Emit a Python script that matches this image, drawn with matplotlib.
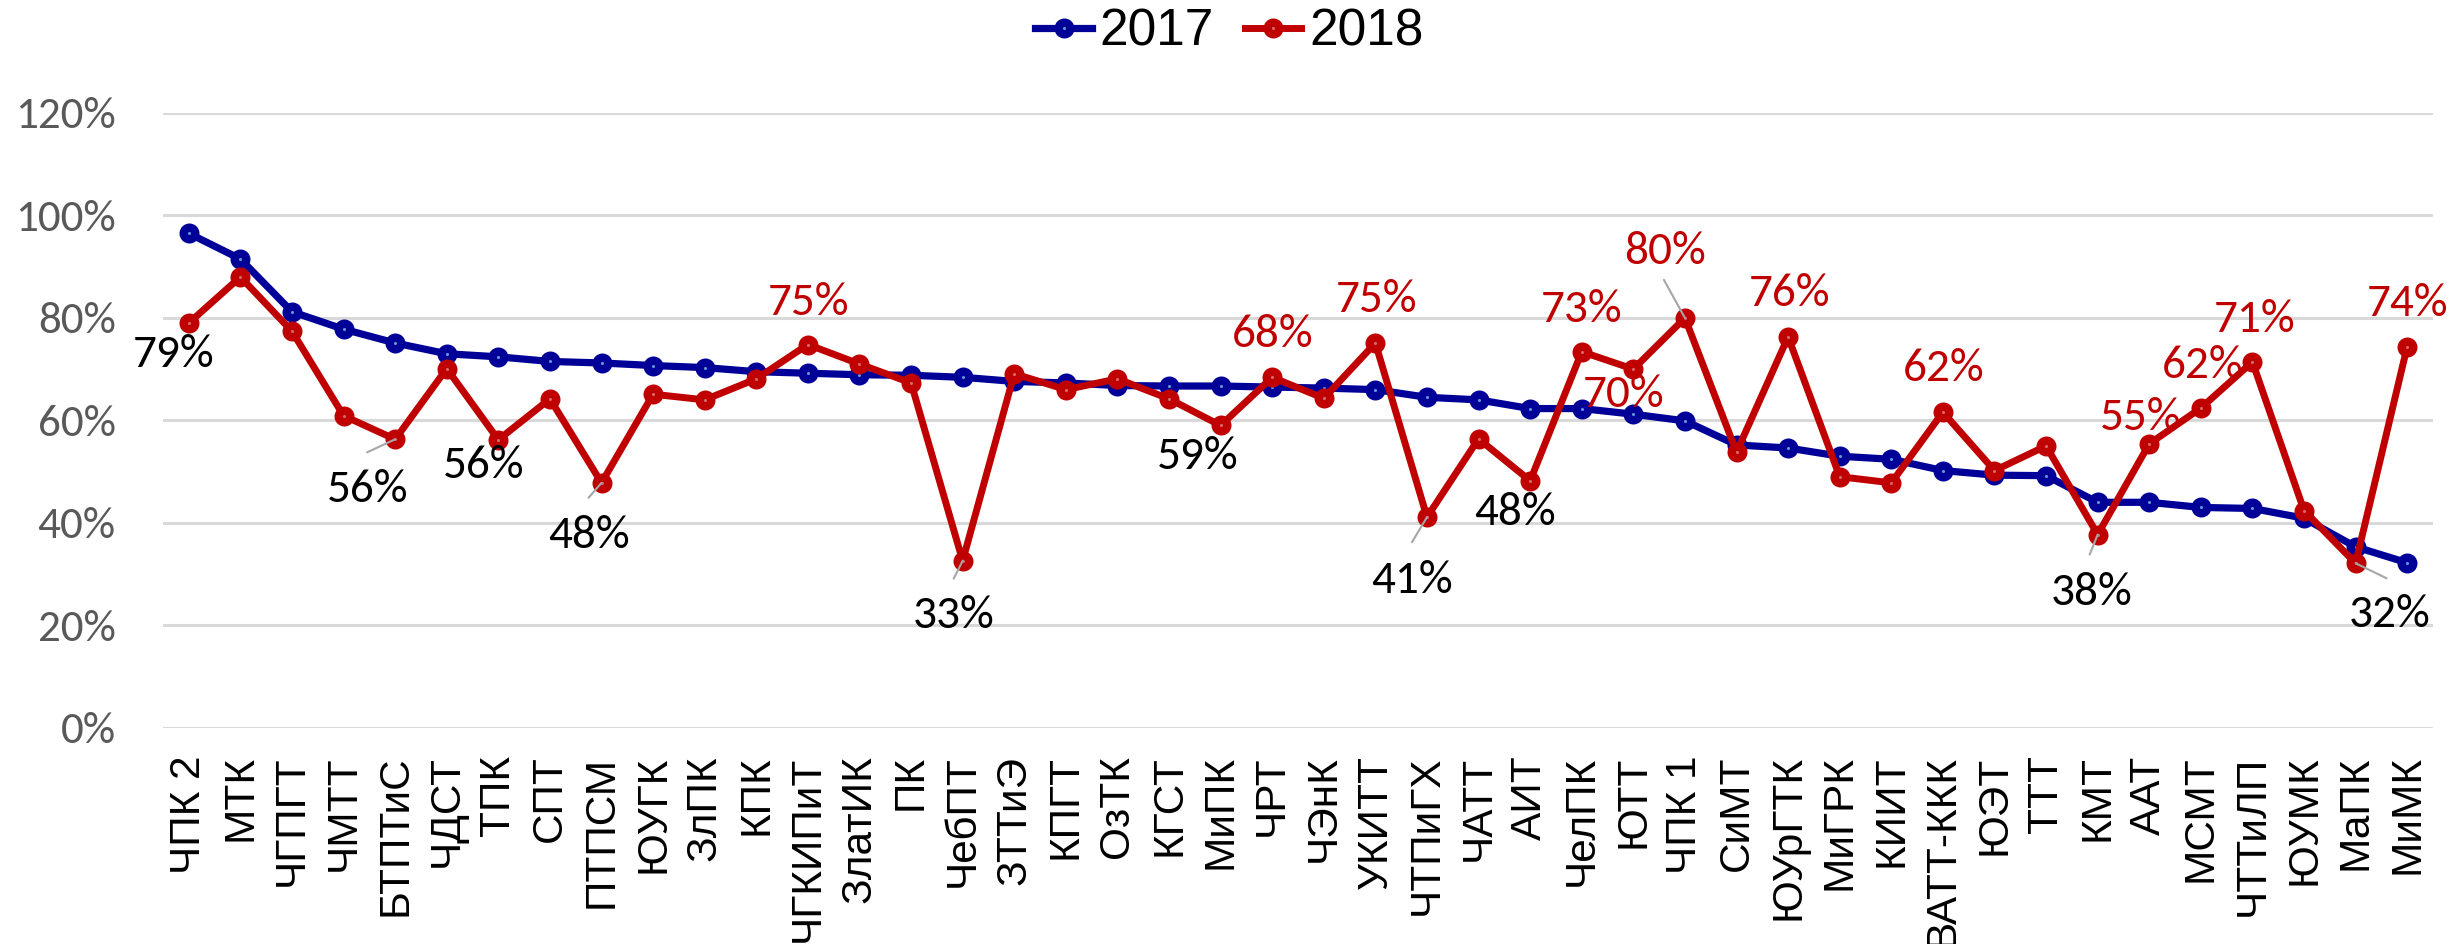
import matplotlib
matplotlib.use("Agg")
import matplotlib.pyplot as plt
from matplotlib import font_manager
from matplotlib.lines import Line2D

# ---------------- data ----------------
categories = ["ЧПК 2", "МТК", "ЧГПГТ", "ЧМТТ", "БТПТиС", "ЧДСТ", "ТПК", "СПТ", "ПТПСМ",
              "ЮУГК", "ЗлПК", "КПК", "ЧГКИПиТ", "ЗлатИК", "ПК", "ЧебПТ", "ЗТТиЭ", "КПГТ",
              "ОзТК", "КГСТ", "МиПК", "ЧРТ", "ЧЭнК", "УКИТТ", "ЧТПиГХ", "ЧАТТ", "АИТ",
              "ЧелПК", "ЮТТ", "ЧПК 1", "СиМТ", "ЮУрГТК", "МиГРК", "КИИТ", "ВАТТ-ККК",
              "ЮЭТ", "ТТТ", "КМТ", "ААТ", "МСМТ", "ЧТТиЛП", "ЮУМК", "МаПК", "МиМК"]

values_2017 = [96.5, 91.5, 81.2, 77.8, 75.1, 73.0, 72.4, 71.5, 71.2, 70.7, 70.3, 69.5,
               69.2, 68.9, 68.8, 68.4, 67.6, 67.3, 66.8, 66.7, 66.7, 66.5, 66.3, 66.0,
               64.5, 64.0, 62.3, 62.3, 61.2, 59.9, 55.2, 54.6, 53.0, 52.4, 50.2, 49.3,
               49.2, 44.0, 44.0, 43.0, 42.8, 40.9, 35.3, 32.2]

values_2018 = [79.0, 88.0, 77.4, 60.9, 56.3, 70.1, 56.2, 64.2, 47.8, 65.1, 64.0, 68.1,
               74.8, 71.0, 67.3, 32.6, 69.1, 66.0, 68.1, 64.2, 59.0, 68.4, 64.3, 75.1,
               41.1, 56.4, 48.2, 73.4, 70.0, 80.0, 53.8, 76.3, 49.0, 47.8, 61.6, 50.2,
               55.0, 37.7, 55.4, 62.4, 71.4, 42.4, 32.1, 74.4]

y_ticks = [0, 20, 40, 60, 80, 100, 120]
series_names = ["2017", "2018"]

# indices of 2018 points that carry a data label
labeled_2018 = [0, 4, 6, 8, 12, 15, 20, 21, 23, 24, 26, 27, 28, 29, 31, 34, 37, 38, 39, 40, 42, 43]

# ---------------- styling ----------------
BLUE = "#000099"
RED = "#C00000"
BLUE_DOT = "#5B9BD5"
RED_DOT = "#D46A6A"
GRID = "#D9D9D9"
TICK = "#595959"
LEADER = "#A6A6A6"

names = {f.name for f in font_manager.fontManager.ttflist}
if "Carlito" in names:
    num_font, tick_fs, lab_fs = "Carlito", 32.5, 34
elif "Roboto" in names:
    num_font, tick_fs, lab_fs = "Roboto", 29, 31
else:
    num_font, tick_fs, lab_fs = "DejaVu Sans", 27, 29
cat_font = "Liberation Sans" if "Liberation Sans" in names else "DejaVu Sans"

# label placement (pixel offsets of label centre from the point, image y downwards)
label_pos = {
    0: (-15, 29), 4: (-28, 48), 6: (-15, 23), 8: (-13, 50), 12: (1, -45),
    15: (-9, 52), 20: (-23, 29), 21: (0, -45), 23: (1, -46), 24: (-15, 61),
    26: (-15, 29), 27: (0, -45), 28: (-10, 23), 29: (-20, -69), 31: (1, -46),
    34: (1, -46), 37: (-6, 55), 38: (-9, -29), 39: (2, -45), 40: (2, -45),
    42: (34, 49), 43: (0, -46),
}
leaders = {4: (-28, 13), 8: (-13, 15), 15: (-9, 18), 24: (-15, 25),
           29: (-21, -38), 37: (-8, 20), 42: (31, 15)}
black_labels = {0, 4, 6, 8, 15, 20, 24, 26, 37, 42}

W, H, DPI = 2456, 944, 100
fig = plt.figure(figsize=(W / DPI, H / DPI), dpi=DPI)
ax = fig.add_axes([163 / W, (H - 727.7) / H, (2433 - 163) / W, (727.7 - 113) / H])

x = list(range(len(categories)))

mk = dict(marker="o", markersize=8.4, markeredgewidth=6.0)
ax.plot(x, values_2017, color=BLUE, lw=5.2, markerfacecolor=BLUE_DOT,
        markeredgecolor=BLUE, zorder=3, clip_on=False, **mk)
ax.plot(x, values_2018, color=RED, lw=5, markerfacecolor=RED_DOT,
        markeredgecolor=RED, zorder=4, clip_on=False, **mk)

ax.set_xlim(-0.5, len(categories) - 0.5)
ax.set_ylim(0, 120)
ax.set_yticks(y_ticks)
ax.set_yticklabels([f"{t}%" for t in y_ticks], fontsize=tick_fs, color=TICK, family=num_font)
ax.set_xticks(x)
ax.set_xticklabels(categories, rotation=90, fontsize=30.5, family=cat_font, color="black")
ax.tick_params(axis="y", length=0, pad=34)
ax.tick_params(axis="x", length=0, pad=20)
for s in ax.spines.values():
    s.set_visible(False)
ax.yaxis.grid(True, color=GRID, lw=2.2)
ax.set_axisbelow(True)

for i in labeled_2018:
    v = values_2018[i]
    dx, dy = label_pos[i]
    col = "black" if i in black_labels else RED
    ax.annotate(f"{round(v)}%", xy=(i, v), xytext=(dx, -(dy + 15)),
                textcoords="offset pixels", ha="center", va="baseline",
                fontsize=lab_fs, family=num_font, color=col, zorder=6)
    if i in leaders:
        lx, ly = leaders[i]
        ax.annotate("", xy=(i, v), xytext=(lx, -ly), textcoords="offset pixels",
                    arrowprops=dict(arrowstyle="-", color=LEADER, lw=1.5,
                                    shrinkA=0, shrinkB=0), zorder=5)

handles = [Line2D([0], [0], color=BLUE, lw=5.2, markerfacecolor=BLUE_DOT,
                  markeredgecolor=BLUE, **mk),
           Line2D([0], [0], color=RED, lw=5, markerfacecolor=RED_DOT,
                  markeredgecolor=RED, **mk)]
fig.legend(handles, series_names, loc="center", bbox_to_anchor=(1229.5 / W, 1 - 32 / H),
           ncol=2, frameon=False, prop={"family": cat_font, "size": 37},
           handlelength=1.1, handletextpad=0.15, columnspacing=0.6,
           borderaxespad=0, borderpad=0)

fig.savefig("out.png", dpi=DPI)
